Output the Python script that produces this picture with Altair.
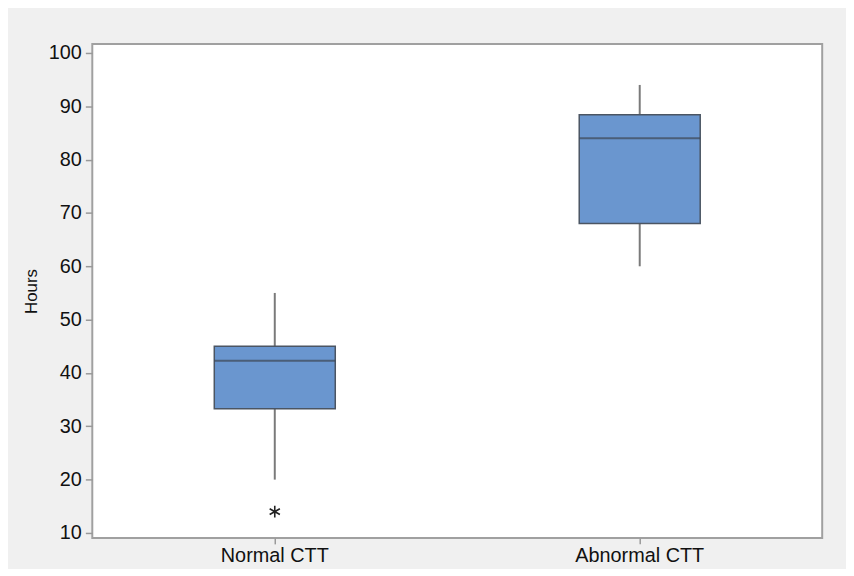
import altair as alt
import pandas as pd

categories = ["Normal CTT", "Abnormal CTT"]
lower_whisker = [20, 60]
q1 = [33.3, 68]
median = [42.3, 84]
q3 = [45, 88.4]
upper_whisker = [55, 94]

outlier_cat = ["Normal CTT"]
outlier_val = [14]

df = pd.DataFrame({
    "group": categories,
    "lw": lower_whisker,
    "q1": q1,
    "med": median,
    "q3": q3,
    "uw": upper_whisker,
})
df_out = pd.DataFrame({"group": outlier_cat, "val": outlier_val})

FONT = "Liberation Sans"
xenc = alt.X("group:N", sort=categories,
             scale=alt.Scale(paddingInner=0, paddingOuter=0),
             axis=alt.Axis(title=None, labelAngle=0, labelFontSize=20, labelColor="#111",
                           labelFont=FONT, tickSize=6, tickColor="#999", tickWidth=1.5,
                           domain=False, labelPadding=2))
yscale = alt.Scale(domain=[9.07, 101.67], nice=False, zero=False)
yaxis = alt.Axis(title="Hours", values=list(range(10, 101, 10)), grid=False,
                 labelFontSize=20, labelColor="#111", labelFont=FONT,
                 titleFont=FONT, titleFontSize=17, titleFontWeight="normal", titleColor="#111",
                 titlePadding=8, tickSize=7, tickColor="#999", tickWidth=1.5,
                 domain=False, labelPadding=4)

base = alt.Chart(df)

whisk_hi = base.mark_rule(color="#7a7a7a", strokeWidth=2).encode(
    x=xenc, y=alt.Y("q3:Q", scale=yscale, axis=yaxis), y2="uw:Q")
whisk_lo = base.mark_rule(color="#7a7a7a", strokeWidth=2).encode(
    x=xenc, y=alt.Y("lw:Q", scale=yscale, axis=yaxis), y2="q1:Q")
box = base.mark_bar(size=122, color="#6a96cf", stroke="#4b5563", strokeWidth=1.5).encode(
    x=xenc, y=alt.Y("q1:Q", scale=yscale, axis=yaxis), y2="q3:Q")
med = base.mark_tick(size=122, thickness=2, color="#3d4653").encode(
    x=xenc, y=alt.Y("med:Q", scale=yscale, axis=yaxis))
out = alt.Chart(df_out).mark_point(
    shape="M0,-1L0,1M-0.87,-0.5L0.87,0.5M-0.87,0.5L0.87,-0.5",
    size=140, stroke="#222", strokeWidth=1.6, filled=False, opacity=1).encode(
    x=xenc, y=alt.Y("val:Q", scale=yscale, axis=yaxis))

chart = alt.layer(whisk_hi, whisk_lo, box, med, out).properties(
    width=736, height=498,
    autosize=alt.AutoSizeParams(type="none"),
    padding={"left": 85, "top": 34, "right": 24, "bottom": 29},
    background="#f0f0f0",
).configure_view(stroke="#a0a0a0", strokeWidth=2, fill="white")

chart.save("out.html", embed_options={"renderer": "svg", "actions": False})
